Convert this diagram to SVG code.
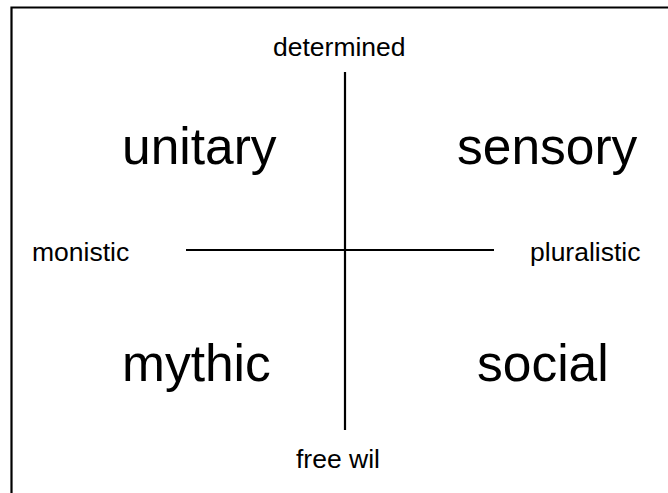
<svg xmlns="http://www.w3.org/2000/svg" width="668" height="493" viewBox="0 0 668 493">
<style>
.ln{stroke:#000;stroke-width:2.2;fill:none}
.s{font-family:"Liberation Sans",Arial,sans-serif;font-size:26.5px;fill:#000}
.b{font-family:"Liberation Sans",Arial,sans-serif;font-size:51.5px;fill:#000}
</style>
<rect width="668" height="493" fill="#fff"/>
<g id="frame"><path class="ln" d="M668,7.5 H11.5 V493" stroke-width="2.5"/></g>
<g id="connectors">
<line class="ln" x1="345" y1="72" x2="345" y2="430"/>
<line class="ln" x1="186" y1="250" x2="494" y2="250"/>
</g>
<g id="determined"><text class="s" x="273" y="56">determined</text></g>
<g id="freewil"><text class="s" x="296" y="468">free wil</text></g>
<g id="monistic"><text class="s" x="32" y="261">monistic</text></g>
<g id="pluralistic"><text class="s" x="530" y="261">pluralistic</text></g>
<g id="unitary"><text class="b" x="122" y="164">unitary</text></g>
<g id="sensory"><text class="b" x="457" y="164">sensory</text></g>
<g id="mythic"><text class="b" x="122" y="381">mythic</text></g>
<g id="social"><text class="b" x="477" y="381">social</text></g>
</svg>
